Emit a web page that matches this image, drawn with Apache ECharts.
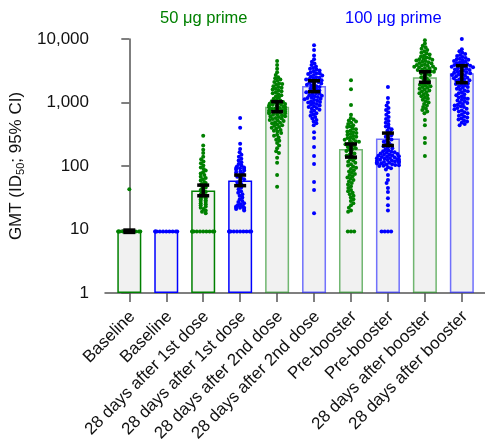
<!DOCTYPE html>
<html>
<head>
<meta charset="utf-8">
<script src="https://cdn.jsdelivr.net/npm/echarts@6/dist/echarts.min.js"></script>
<style>
  html, body { margin: 0; padding: 0; background: #fff; }
  #canvas { width: 485px; height: 441px; }
</style>
</head>
<body>
<div id="canvas"></div>
<script>
const categories = [
  'Baseline', 'Baseline',
  '28 days after 1st dose', '28 days after 1st dose',
  '28 days after 2nd dose', '28 days after 2nd dose',
  'Pre-booster', 'Pre-booster',
  '28 days after booster', '28 days after booster',
];

// geometric mean titres and 95% CI per bar
const gmt = [9.4, 9.4, 41, 59, 860, 1820, 185, 270, 2500, 2900];
const ciLow = [9.0, 9.4, 34, 49, 716, 1480, 138, 210, 2080, 2050];
const ciHigh = [9.8, 9.4, 50, 72, 1030, 2200, 222, 330, 3050, 3800];

// individual titres (below LLOQ plotted at 9.3)
const LLOQ = 9.3;
const baseline50 = [43, 9.3, 9.3, 9.3, 9.3, 9.3, 9.3, 9.3, 9.3, 9.3, 9.3];
const baseline100 = [9.3, 9.3, 9.3, 9.3, 9.3, 9.3, 9.3, 9.3, 9.3, 9.3];
const dose1_50 = [300, 210, 180, 160, 140, 128, 118, 110, 102, 95, 90, 85, 80, 76, 72, 68,
  65, 62, 59, 56, 54, 52, 50, 48, 46, 44, 42, 40, 39, 37, 36, 34, 33, 32, 31, 30, 29, 28,
  27, 26, 25, 24, 23, 22, 21, 20, 19, 18,
  9.3, 9.3, 9.3, 9.3, 9.3, 9.3, 9.3, 9.3, 9.3, 9.3];
const dose1_100 = [570, 400, 225, 185, 165, 150, 140, 130, 122, 115, 108, 102, 98, 95, 93,
  92, 90, 88, 85, 82, 80, 76, 72, 68, 65, 62, 58, 55, 52, 49, 46, 43, 40, 38, 36, 34, 32, 30,
  28, 27, 26, 25, 24, 23, 23, 22, 22, 22, 21, 21, 20,
  9.3, 9.3, 9.3, 9.3, 9.3, 9.3, 9.3, 9.3, 9.3, 9.3];
const dose2_50 = [4500, 3900, 3400, 3000, 2700, 2500, 2400, 2300, 2200, 2100, 2000, 1950,
  1900, 1800, 1750, 1700, 1650, 1600, 1550, 1500, 1450, 1400, 1350, 1300, 1250, 1200, 1150,
  1100, 1080, 1050, 1020, 1000, 980, 960, 950, 930, 920, 900, 880, 860, 850, 840, 820, 800,
  790, 780, 760, 750, 740, 720, 710, 700, 690, 680, 670, 650, 640, 630, 610, 600, 590, 570,
  560, 550, 530, 520, 510, 490, 480, 470, 450, 440, 430, 410, 400, 390, 370, 360, 350, 330,
  310, 300, 280, 260, 250, 230, 210, 190, 170, 160, 135, 112, 72, 47];
const dose2_100 = [8000, 6700, 5500, 4800, 4400, 4100, 3900, 3700, 3500, 3400, 3300, 3200,
  3100, 3000, 2900, 2850, 2800, 2700, 2650, 2600, 2500, 2450, 2400, 2350, 2300, 2250, 2200,
  2150, 2100, 2050, 2000, 1950, 1900, 1850, 1800, 1750, 1700, 1650, 1600, 1550, 1500, 1480,
  1450, 1400, 1380, 1350, 1300, 1280, 1250, 1220, 1200, 1180, 1150, 1120, 1100, 1080, 1050,
  1020, 1000, 980, 950, 920, 900, 870, 850, 820, 800, 770, 740, 710, 680, 650, 620, 590,
  560, 530, 500, 470, 440, 340, 277, 200, 144, 108, 56, 42, 18];
const pre50 = [2250, 1620, 910, 640, 570, 540, 520, 500, 480, 460, 440, 420, 410, 390, 380,
  360, 350, 340, 330, 320, 310, 300, 290, 280, 275, 265, 260, 250, 245, 240, 230, 225, 220,
  210, 205, 200, 190, 185, 180, 172, 165, 158, 150, 145, 140, 134, 128, 122, 117, 112, 107,
  102, 98, 94, 90, 86, 82, 78, 75, 72, 69, 66, 63, 60, 57, 54, 51, 48, 45, 42, 40, 38, 36,
  34, 32, 30, 28, 26, 24, 22, 20, 19, 9.3, 9.3, 9.3];
const pre100 = [1750, 1180, 1000, 900, 820, 760, 700, 640, 590, 550, 510, 480, 450, 420, 400,
  380, 360, 340, 320, 305, 290, 275, 262, 250, 240, 230, 220, 212, 205, 198, 190, 183, 176,
  170, 167, 164, 161, 158, 155, 152, 150, 147, 145, 142, 140, 138, 136, 134, 132, 130, 128,
  127, 125, 124, 122, 121, 119, 118, 116, 115, 113, 112, 110, 109, 107, 106, 104, 103, 101,
  100, 96, 92, 88, 72, 60, 54, 45, 39, 31, 24, 20, 9.3, 9.3, 9.3, 9.3];
const boost50 = [9600, 8500, 7800, 7400, 7000, 6700, 6400, 6100, 5900, 5700, 5500, 5300,
  5100, 5000, 4900, 4800, 4700, 4600, 4500, 4400, 4300, 4200, 4100, 4000, 3900, 3850, 3800,
  3700, 3650, 3600, 3500, 3450, 3400, 3300, 3250, 3200, 3100, 3050, 3000, 2900, 2800, 2700,
  2600, 2500, 2400, 2300, 2200, 2100, 2000, 1950, 1900, 1850, 1800, 1750, 1700, 1650, 1600,
  1550, 1500, 1450, 1400, 1350, 1300, 1250, 1200, 1150, 1100, 1050, 1000, 950, 900, 850,
  800, 760, 720, 680, 530, 440, 275, 230, 144];
const boost100 = [10000, 6900, 6400, 6100, 5800, 5600, 5400, 5200, 5000, 4900, 4800, 4700,
  4600, 4500, 4400, 4300, 4200, 4100, 4000, 3900, 3850, 3800, 3700, 3650, 3600, 3500, 3450,
  3400, 3300, 3250, 3200, 3100, 3050, 3000, 2950, 2900, 2800, 2750, 2700, 2650, 2600, 2500,
  2450, 2400, 2350, 2300, 2250, 2200, 2150, 2100, 2050, 2000, 1950, 1900, 1850, 1800, 1750,
  1700, 1650, 1600, 1550, 1500, 1450, 1400, 1350, 1300, 1250, 1200, 1180, 1150, 1100, 1080,
  1050, 1000, 980, 950, 920, 900, 870, 850, 820, 800, 780, 750, 720, 700, 680, 650, 620, 600,
  580, 560, 540, 520, 500, 480, 460, 440];

const groups = [baseline50, baseline100, dose1_50, dose1_100, dose2_50, dose2_100,
  pre50, pre100, boost50, boost100];
// how far each swarm may spread sideways (px)
const spread = [11, 11, 2.5, 4, 8, 11, 9, 11, 11, 12];

const GREEN = '#008000';
const BLUE = '#0000ff';

// layout of the plot area (pixels)
const GRID = { left: 105, right: 0, top: 39, bottom: 148, outerBoundsMode: 'none' };
const X_MIN = -0.658;
const X_MAX = 9.627;
const plotW = 485 - GRID.left - GRID.right;
const plotH = 441 - GRID.top - GRID.bottom;
const pxPerCat = plotW / (X_MAX - X_MIN);
const yPix = (v) => plotH * (1 - Math.log10(v) / 4);

// simple beeswarm: spread points sideways so they don't overlap
function swarm(values, idx, D, maxHalf) {
  const pts = values.map((v) => ({ v, y: yPix(v) })).sort((a, b) => a.y - b.y);
  const placed = [];
  pts.forEach((p) => {
    const lim = p.v === LLOQ ? 11 : maxHalf;
    const iv = [];
    placed.forEach((q) => {
      const dy = Math.abs(q.y - p.y);
      if (dy < D) {
        const w = Math.sqrt(D * D - dy * dy);
        iv.push([q.x - w, q.x + w]);
      }
    });
    const cands = [0];
    iv.forEach(([a, b]) => cands.push(a, b));
    cands.sort((a, b) => Math.abs(a) - Math.abs(b));
    let x = cands.find((c) => iv.every(([a, b]) => c <= a + 1e-6 || c >= b - 1e-6));
    if (x === undefined) x = 0;
    x = Math.max(-lim, Math.min(lim, x));
    p.x = x;
    placed.push(p);
  });
  return pts.map((p) => [idx + p.x / pxPerCat, p.v]);
}

const green = [];
const blue = [];
groups.forEach((vals, i) => {
  const pts = swarm(vals, i, 3.2, spread[i]);
  (i % 2 === 0 ? green : blue).push(...pts);
});

const barData = gmt.map((v, i) => {
  const base = i % 2 === 0 ? '0,128,0' : '0,0,255';
  return {
    value: [i, v],
    itemStyle: { borderColor: i < 4 ? `rgb(${base})` : `rgba(${base},0.55)` },
  };
});
const errData = gmt.map((v, i) => [i, ciLow[i], ciHigh[i]]);

const chart = echarts.init(document.getElementById('canvas'));
const axisColor = '#555';
const tickIdx = categories.map((c, i) => i);
// labels sit a few px right of their tick
const labelIdx = tickIdx.map((i) => i + 3 / pxPerCat);

const option = {
  animation: false,
  textStyle: { fontFamily: 'Liberation Sans, Arial, sans-serif' },
  grid: GRID,
  graphic: [
    {
      type: 'text', left: 160, top: 10,
      style: { text: '50 μg prime', fill: GREEN, fontSize: 16.5, fontFamily: 'Liberation Sans' },
    },
    {
      type: 'text', left: 345, top: 10,
      style: { text: '100 μg prime', fill: BLUE, fontSize: 16.5, fontFamily: 'Liberation Sans' },
    },
  ],
  xAxis: {
    type: 'value',
    min: X_MIN,
    max: X_MAX,
    splitLine: { show: false },
    axisLine: { show: true, lineStyle: { color: axisColor, width: 1.5 } },
    axisTick: { show: true, customValues: tickIdx, length: 9, lineStyle: { color: axisColor, width: 1.5 } },
    axisLabel: {
      customValues: labelIdx,
      formatter: (v) => categories[Math.round(v)],
      rotate: 45,
      margin: 21,
      fontSize: 17,
      color: '#111',
    },
  },
  yAxis: {
    type: 'log',
    logBase: 10,
    min: 1,
    max: 10000,
    splitLine: { show: false },
    axisLine: { show: true, lineStyle: { color: axisColor, width: 1.5 } },
    axisTick: { show: true, length: 8, lineStyle: { color: axisColor, width: 1.5 } },
    axisLabel: {
      margin: 16,
      fontSize: 17,
      color: '#111',
      formatter: (v) => Number(v).toLocaleString('en-US'),
    },
    name: '{a|GMT (ID}{s|50}{a|; 95% CI)}',
    nameLocation: 'middle',
    nameGap: 76,
    nameTextStyle: {
      rich: {
        a: { fontSize: 17, color: '#111', lineHeight: 22 },
        s: { fontSize: 11, color: '#111', lineHeight: 22, padding: [9, 0, 0, 0] },
      },
    },
  },
  series: [
    {
      type: 'bar',
      data: barData,
      barWidth: 24,
      z: 2,
      itemStyle: { color: '#f1f1f1', borderWidth: 1.5 },
    },
    {
      type: 'scatter',
      data: green,
      symbolSize: 4,
      z: 3,
      itemStyle: { color: GREEN, opacity: 1 },
    },
    {
      type: 'scatter',
      data: blue,
      symbolSize: 4,
      z: 3,
      itemStyle: { color: BLUE, opacity: 1 },
    },
    {
      type: 'custom',
      z: 4,
      data: errData,
      renderItem(params, api) {
        const lo = api.value(1);
        const hi = api.value(2);
        if (hi <= lo) return null;
        const top = api.coord([api.value(0), hi]);
        const bot = api.coord([api.value(0), lo]);
        const half = 6;
        const style = { stroke: '#000', lineWidth: 3.5 };
        return {
          type: 'group',
          children: [
            { type: 'line', shape: { x1: top[0], y1: top[1], x2: bot[0], y2: bot[1] }, style },
            { type: 'line', shape: { x1: top[0] - half, y1: top[1], x2: top[0] + half, y2: top[1] }, style },
            { type: 'line', shape: { x1: bot[0] - half, y1: bot[1], x2: bot[0] + half, y2: bot[1] }, style },
          ],
        };
      },
    },
  ],
};

chart.setOption(option);

window.onresize = chart.resize;
</script>
</body>
</html>
